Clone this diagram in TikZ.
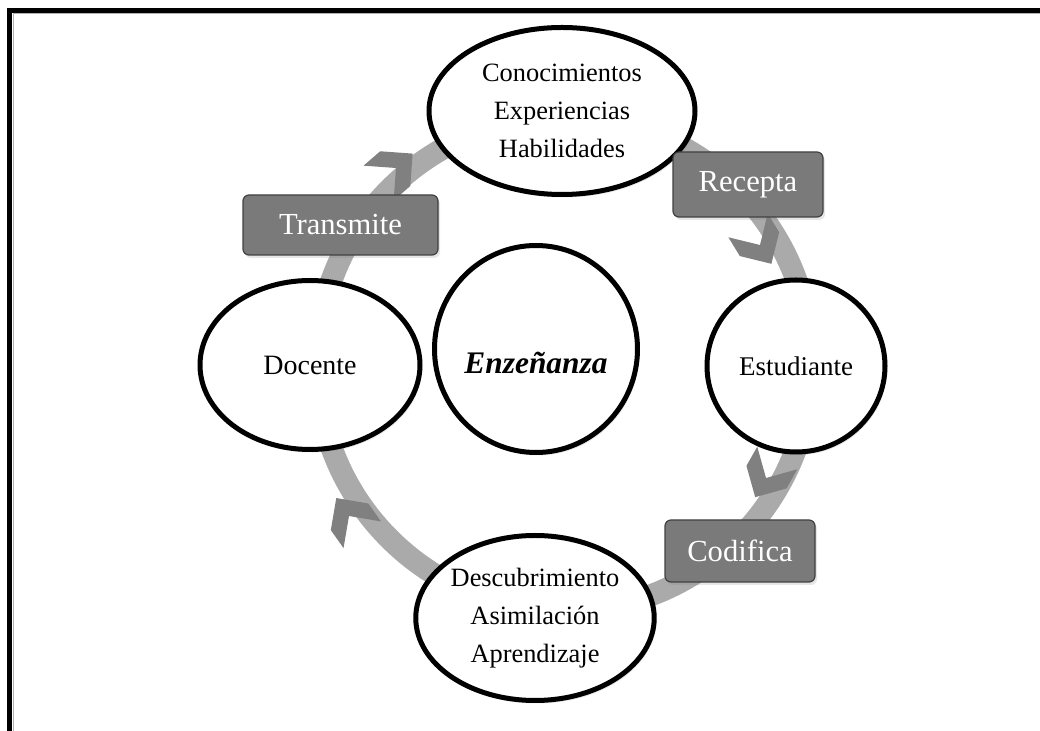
\documentclass[tikz,border=0pt]{standalone}
\usepackage{fontspec}
\setmainfont{Liberation Serif}
\usetikzlibrary{shapes.geometric,shadows}
\definecolor{cajagris}{RGB}{122,122,122}
\definecolor{anillogris}{RGB}{170,170,170}
\definecolor{flechagris}{RGB}{128,128,128}

\begin{document}
\begin{tikzpicture}[x=0.5pt,y=-0.5pt,
    idea/.style={ellipse,draw=black,line width=2.5pt,fill=white,inner sep=0pt,align=center,
      font=\fontsize{13.2}{19}\selectfont,
      drop shadow={opacity=0.18,shadow xshift=1pt,shadow yshift=-1.5pt}},
    accion/.style={rectangle,rounded corners=3pt,draw=black!75,line width=0.6pt,fill=cajagris,
      text=white,inner sep=0pt,font=\fontsize{15.3}{18}\selectfont,
      drop shadow={opacity=0.2,shadow xshift=1pt,shadow yshift=-1.5pt}}]
      \useasboundingbox (0,0) rectangle (1040,731);
      % marco
      \draw [gray!60,line width=0.5pt] (13,731) -- (13,14) -- (1040,14);
      \draw [line width=2.5pt] (9.5,731) -- (9.5,10.5) -- (1040,10.5);
      % anillo del ciclo
      \coordinate (ciclo) at (564,364);
      \draw [anillogris,line width=11pt] (ciclo) circle [radius=123.5pt];
      \foreach \cx/\cy/\giro in {396/168/40.9, 760/245/-58.7, 766/478/-119.4, 349/516/125.3}
        \fill [flechagris,shift={(\cx,\cy)},rotate=\giro] (11pt,0pt) -- (-0.5pt,11.5pt) -- (-11.5pt,11.5pt)
          -- (0pt,0pt) -- (-11.5pt,-11.5pt) -- (-0.5pt,-11.5pt) -- cycle;
      % elipses
      \node [idea,minimum width=133pt,minimum height=83.5pt] (saberes) at (562,111)
        {Conocimientos\\Experiencias\\Habilidades};
      \node [idea,minimum width=89pt,minimum height=86pt,font=\fontsize{13.5}{16}\selectfont] (estudiante) at (796,366) {Estudiante};
      \node [idea,minimum width=110pt,minimum height=84.5pt,font=\fontsize{14}{17}\selectfont] (docente) at (310,365) {Docente};
      \node [idea,minimum width=101.5pt,minimum height=103.5pt,font=\fontsize{15.7}{19}\selectfont\bfseries\itshape] (ensenanza) at (536,349)
        {\raisebox{-12.5pt}[0pt][0pt]{Enzeñanza}};
      \node [idea,minimum width=116pt,minimum height=82.5pt] (aprendizaje) at (535,618)
        {Descubrimiento\\Asimilación\\Aprendizaje};
      % acciones
      \node [accion,minimum width=75pt,minimum height=32.5pt] (recepta) at (748,184.5) {Recepta};
      \node [accion,minimum width=97.5pt,minimum height=30pt] (transmite) at (340.5,225) {Transmite};
      \node [accion,minimum width=75pt,minimum height=31pt] (codifica) at (740,551) {Codifica};
\end{tikzpicture}
\end{document}
